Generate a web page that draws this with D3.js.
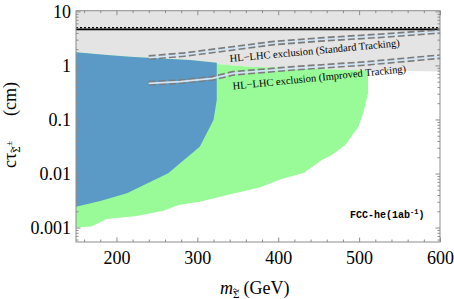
<!DOCTYPE html>
<html>
<head>
<meta charset="utf-8">
<script src="https://cdn.jsdelivr.net/npm/d3@7"></script>
<style>
  body { margin: 0; background: #fff; }
  svg { display: block; }
  .serif { font-family: "Liberation Serif", "Times New Roman", "DejaVu Serif", serif; }
  .mono { font-family: "Liberation Mono", "Courier New", monospace; }
</style>
</head>
<body>
<div id="chart"></div>
<script>
// Size of the picture and the plot frame
const width = 454;
const height = 299;
const margin = {top: 10.7, right: 14, bottom: 57, left: 76};

// Upper edge of the reach (also the lower edge of the grey band)
const edgeMass = [150, 185, 217, 255, 291, 324, 326, 365, 450, 511, 600];
const edgeTau  = [1.75, 1.58, 1.45, 1.34, 1.26, 1.12, 1.05, 0.95, 0.86, 0.81, 0.77];

// Blue region: right side and bottom
const blueMass = [324, 324, 320, 303, 279, 264, 213, 180, 150];
const blueTau  = [0.82, 0.229, 0.098, 0.0313, 0.0156, 0.0101, 0.0043, 0.0031, 0.00243];

// Green region: right side and bottom
const greenMass = [511, 505, 499, 483, 466, 454, 432, 403, 378, 337, 303, 277, 258, 225, 188, 169, 150];
const greenTau  = [0.305, 0.13, 0.0735, 0.0337, 0.022, 0.0178, 0.01035, 0.0078, 0.00555, 0.004, 0.003, 0.0026, 0.00205, 0.00164, 0.00144, 0.00105, 0.001];

// HL-LHC exclusion curves
const stdMass = [240, 284, 337, 395, 452, 535, 600];
const stdTau  = [1.40, 1.59, 2.01, 2.60, 3.02, 3.61, 4.25];
const impMass = [240, 279, 319, 344, 419, 510, 600];
const impTau  = [0.467, 0.50, 0.578, 0.715, 0.885, 1.095, 1.45];

// Black horizontal line
const limitTau = 4.66;

// Ticks
const xTicks = [200, 300, 400, 500, 600];
const yTicks = [0.001, 0.01, 0.1, 1, 10];
const yTickLabels = ["0.001", "0.01", "0.1", "1", "10"];

const x = d3.scaleLinear().domain([150, 600]).range([margin.left, width - margin.right]);
const y = d3.scaleLog().domain([0.00054, 10.3]).range([height - margin.bottom, margin.top]);

const svg = d3.select("#chart").append("svg")
    .attr("width", width)
    .attr("height", height)
    .attr("viewBox", [0, 0, width, height]);

const zip = (ms, ts) => ms.map((m, i) => [m, ts[i]]);
const line = d3.line().x(d => x(d[0])).y(d => y(d[1]));

const edge = zip(edgeMass, edgeTau);
const yTop = y.domain()[1];

// Grey excluded band
svg.append("path")
    .attr("fill", "#e4e4e4")
    .attr("d", line(edge.concat([[600, yTop], [150, yTop]])) + "Z");

// Green region
const greenPts = edge.filter(d => d[0] <= 511).concat(zip(greenMass, greenTau));
svg.append("path")
    .attr("fill", "#98fb98")
    .attr("d", line(greenPts) + "Z");

// Blue region
const bluePts = edge.filter(d => d[0] <= 324).concat(zip(blueMass, blueTau));
svg.append("path")
    .attr("fill", "#5b9ac6")
    .attr("d", line(bluePts) + "Z");

// Black limit line (solid with dashed edge)
svg.append("line")
    .attr("x1", x(150)).attr("x2", x(600))
    .attr("y1", y(limitTau)).attr("y2", y(limitTau))
    .attr("stroke", "#000").attr("stroke-width", 1.8);
svg.append("line")
    .attr("x1", x(150)).attr("x2", x(600))
    .attr("y1", y(limitTau) - 1.6).attr("y2", y(limitTau) - 1.6)
    .attr("stroke", "#000").attr("stroke-width", 1.2)
    .attr("stroke-dasharray", "2,2");

// Double-dashed HL-LHC curves
[zip(stdMass, stdTau), zip(impMass, impTau)].forEach(pts => {
    svg.append("path")
        .attr("fill", "none")
        .attr("stroke", "#7c7c7c")
        .attr("stroke-width", 5)
        .attr("stroke-dasharray", "7,3")
        .attr("d", line(pts));
    svg.append("path")
        .attr("fill", "none")
        .attr("stroke", "#d3e4f4")
        .attr("stroke-width", 1.7)
        .attr("d", line(pts));
});

// Curve labels
svg.append("text")
    .attr("class", "serif")
    .attr("transform", "translate(230,62) rotate(-5.3)")
    .attr("font-size", 10.5)
    .text("HL\u2212LHC exclusion (Standard Tracking)");
svg.append("text")
    .attr("class", "serif")
    .attr("transform", "translate(233,89.5) rotate(-5.7)")
    .attr("font-size", 10.5)
    .text("HL\u2212LHC exclusion (Improved Tracking)");

// FCC-he label
const fcc = svg.append("text")
    .attr("class", "mono")
    .attr("x", 350).attr("y", 218)
    .attr("font-weight", "bold")
    .attr("font-size", 10)
    .text("FCC-he(1ab");
fcc.append("tspan").attr("font-size", 7).attr("dy", -4).text("-1");
fcc.append("tspan").attr("dy", 4).text(")");

// Frame
const x0 = margin.left, x1 = width - margin.right;
const y0 = height - margin.bottom, y1 = margin.top;
svg.append("rect")
    .attr("x", x0).attr("y", y1)
    .attr("width", x1 - x0).attr("height", y0 - y1)
    .attr("fill", "none")
    .attr("stroke", "#8c8c8c")
    .attr("stroke-width", 1);

// Minor tick values
const xMinor = d3.range(160, 600, 20).filter(v => v % 100 !== 0);
const yMinor = [];
for (let e = -4; e <= 1; e++) {
    for (let k = 2; k <= 9; k++) {
        const v = k * Math.pow(10, e);
        if (v > y.domain()[0] && v < y.domain()[1]) yMinor.push(v);
    }
}

function styleAxis(g) {
    g.attr("font-family", null);
    g.select(".domain").remove();
    g.selectAll(".tick line").attr("stroke", "#8c8c8c");
    g.selectAll("text").attr("class", "serif").attr("font-size", 18).attr("fill", "#000");
}

// Bottom axis
svg.append("g").attr("transform", `translate(0,${y0})`)
    .call(d3.axisBottom(x).tickValues(xTicks).tickSize(-4.5).tickPadding(9).tickFormat(d3.format("d")))
    .call(styleAxis);
svg.append("g").attr("transform", `translate(0,${y0})`)
    .call(d3.axisBottom(x).tickValues(xMinor).tickSize(-2.5).tickFormat(""))
    .call(styleAxis);

// Top axis
svg.append("g").attr("transform", `translate(0,${y1})`)
    .call(d3.axisTop(x).tickValues(xTicks).tickSize(-4.5).tickFormat(""))
    .call(styleAxis);
svg.append("g").attr("transform", `translate(0,${y1})`)
    .call(d3.axisTop(x).tickValues(xMinor).tickSize(-2.5).tickFormat(""))
    .call(styleAxis);

// Left axis
svg.append("g").attr("transform", `translate(${x0},0)`)
    .call(d3.axisLeft(y).tickValues(yTicks).tickSize(-4.5).tickPadding(5)
        .tickFormat((d, i) => yTickLabels[i]))
    .call(styleAxis);
svg.append("g").attr("transform", `translate(${x0},0)`)
    .call(d3.axisLeft(y).tickValues(yMinor).tickSize(-2.5).tickFormat(""))
    .call(styleAxis);

// Right axis
svg.append("g").attr("transform", `translate(${x1},0)`)
    .call(d3.axisRight(y).tickValues(yTicks).tickSize(-4.5).tickFormat(""))
    .call(styleAxis);
svg.append("g").attr("transform", `translate(${x1},0)`)
    .call(d3.axisRight(y).tickValues(yMinor).tickSize(-2.5).tickFormat(""))
    .call(styleAxis);

// Small tilde drawn over a tspan (the Sigma)
function tildeOver(group, tspan) {
    const b = tspan.node().getBBox();
    const cx = b.x + b.width / 2;
    const ty = b.y + 1.2;
    group.append("path")
        .attr("fill", "none")
        .attr("stroke", "#000")
        .attr("stroke-width", 0.8)
        .attr("d", `M${cx - 3},${ty + 0.6} q1.5,-2 3,0 t3,0`);
}

// X axis title: m with subscript Sigma-tilde
const xg = svg.append("g");
const xt = xg.append("text")
    .attr("class", "serif")
    .attr("x", 220).attr("y", 294)
    .attr("font-size", 18);
xt.append("tspan").attr("font-style", "italic").text("m");
const xs = xt.append("tspan").attr("font-size", 11).attr("dy", 4).text("\u03A3");
xt.append("tspan").attr("dx", 4).attr("dy", -4).text("(GeV)");
tildeOver(xg, xs);

// Y axis title: c tau with subscript Sigma-tilde, superscript +-
const yg = svg.append("g").attr("transform", "translate(16,168) rotate(-90)");
const yt = yg.append("text")
    .attr("class", "serif")
    .attr("font-size", 18);
yt.append("tspan").text("c\u03C4");
const ys = yt.append("tspan").attr("font-size", 11).attr("dy", 4).text("\u03A3");
yt.append("tspan").attr("font-size", 9).attr("dx", 0.5).attr("dy", -8).text("\u00B1");
tildeOver(yg, ys);
yg.append("text")
    .attr("class", "serif")
    .attr("x", 52)
    .attr("font-size", 18)
    .text("(cm)");
</script>
</body>
</html>
